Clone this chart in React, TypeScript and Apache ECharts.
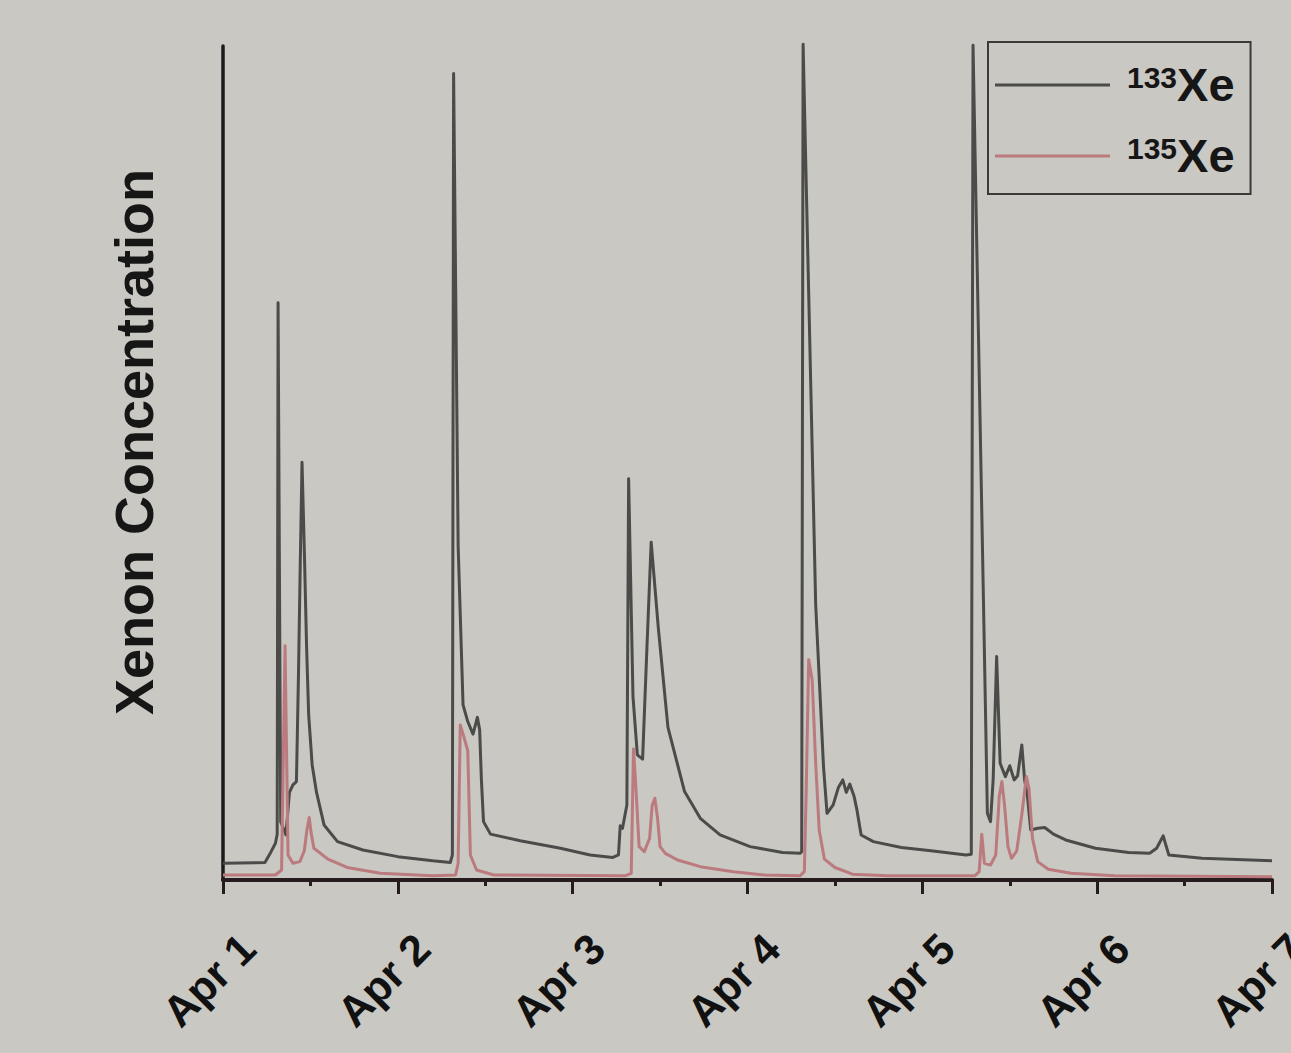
import React, { useEffect, useRef } from "react";
import * as echarts from "echarts";

// x positions are days after Apr 1 00:00
const tickLabels = ["Apr 1", "Apr 2", "Apr 3", "Apr 4", "Apr 5", "Apr 6", "Apr 7"];
const seriesNames = ["133Xe", "135Xe"];

const xe133Days = [
  0, 0.24, 0.275, 0.3, 0.31, 0.315, 0.33, 0.36, 0.38, 0.4, 0.42, 0.432, 0.442, 0.452, 0.466, 0.478, 0.49, 0.51, 0.535, 0.578, 0.655, 0.8, 1.0, 1.2,
  1.3, 1.312, 1.319, 1.345, 1.373, 1.4, 1.43, 1.455, 1.468, 1.478, 1.49, 1.53, 1.7, 1.93, 2.1, 2.23,
  2.262, 2.272, 2.285, 2.31, 2.32, 2.345, 2.37, 2.4, 2.425, 2.449, 2.49, 2.545, 2.64, 2.73, 2.843, 3.015, 3.2, 3.3,
  3.31, 3.318, 3.39, 3.435, 3.455, 3.49, 3.52, 3.545, 3.565, 3.585, 3.61, 3.625, 3.65, 3.72, 3.88, 4.05,
  4.25, 4.28, 4.29, 4.35, 4.372, 4.39, 4.405, 4.425, 4.445, 4.475, 4.5, 4.525, 4.545, 4.569, 4.585, 4.6, 4.62, 4.66, 4.7, 4.75, 4.82, 4.99, 5.18, 5.3, 5.34, 5.378, 5.39, 5.41, 5.6, 6.0,
];
const xe133Values = [
  2.0, 2.1, 3.4, 4.4, 5.5, 69.2, 7, 5.4, 10.5, 11.4, 11.8, 25, 38, 50.1, 38.8, 28, 19.8, 13.8, 10.5, 6.6, 4.6, 3.6, 2.8, 2.3,
  2.1, 3.0, 96.7, 40, 21, 19, 17.5, 19.5, 18, 12, 7, 5.5, 4.7, 3.8, 3.0, 2.7,
  3.0, 6.5, 6.2, 9, 48.1, 22, 15, 14.5, 28, 40.5, 30.2, 18.3, 10.6, 7.4, 5.4, 4.0, 3.3, 3.2,
  3.4, 100.2, 33, 13.5, 8, 9, 11.1, 12.0, 10.5, 11.5, 10.0, 8.5, 5.4, 4.6, 3.9, 3.5,
  3.0, 3.1, 100.1, 33, 8, 7, 12, 26.8, 14, 12.4, 13.7, 12, 12.5, 16.2, 12, 10.3, 6, 6.2, 6.3, 5.5, 4.8, 3.8, 3.3, 3.2, 3.8, 5.3, 4.4, 3.0, 2.6, 2.3,
];

const xe135Days = [
  0, 0.3, 0.335, 0.355, 0.372, 0.4, 0.44, 0.465, 0.48, 0.493, 0.505, 0.52, 0.6, 0.71, 0.9, 1.2,
  1.33, 1.345, 1.357, 1.38, 1.4, 1.415, 1.45, 1.55,
  2.3, 2.335, 2.348, 2.362, 2.38, 2.41, 2.44, 2.455, 2.47, 2.485, 2.5, 2.53, 2.6, 2.73, 2.92, 3.1,
  3.3, 3.325, 3.335, 3.35, 3.37, 3.39, 3.41, 3.44, 3.5, 3.6, 3.8,
  4.3, 4.325, 4.34, 4.355, 4.39, 4.42, 4.44, 4.455, 4.47, 4.49, 4.51, 4.54, 4.57, 4.595, 4.61, 4.63, 4.66, 4.72, 4.85, 5.1, 6.0,
];
const xe135Values = [
  0.6, 0.6, 1.2, 28.1, 3, 2.0, 2.2, 3.5, 6, 7.5, 5.5, 3.8, 2.5, 1.5, 0.8, 0.5,
  0.6, 2, 18.6, 17, 15.5, 3, 1.2, 0.6,
  0.5, 0.8, 15.7, 11, 4, 3.4, 5, 9, 9.8, 7.5, 4.0, 3.2, 2.4, 1.6, 1.0, 0.6,
  0.5, 1, 10, 26.4, 24, 14, 6, 2.5, 1.5, 0.7, 0.5,
  0.5, 1, 5.5, 2, 1.8, 3, 10, 11.8, 9, 4, 2.6, 3.5, 8, 12.4, 11, 5, 2.2, 1.3, 0.8, 0.5, 0.4,
];

const zip = (xs: number[], ys: number[]) => xs.map((x, i) => [x, ys[i]]);

export default function App() {
  const ref = useRef<HTMLDivElement>(null);
  useEffect(() => {
    const chart = echarts.init(ref.current as HTMLDivElement, null, { renderer: "svg" });
    const font = "'Liberation Sans', Arial, sans-serif";
    chart.setOption({
      animation: false,
      backgroundColor: "#c9c8c3",
      textStyle: { fontFamily: font },
      grid: { left: 223, right: 19, top: 46, bottom: 173, containLabel: false, outerBoundsMode: "none" },
      legend: {
        orient: "vertical",
        left: 988,
        top: 42,
        padding: [19, 16, 15, 7],
        itemWidth: 115,
        itemHeight: 3,
        itemGap: 24,
        icon: "rect",
        borderColor: "#3a3a38",
        borderWidth: 2,
        data: seriesNames,
        formatter: (name: string) => `{sup|${name.slice(0, 3)}}{xe|${name.slice(3)}}`,
        textStyle: {
          color: "#161616",
          fontFamily: font,
          rich: {
            sup: { fontSize: 30, lineHeight: 18, verticalAlign: "top", fontWeight: "bold", padding: [0, 0, 0, 12], fontFamily: font, color: "#161616" },
            xe: { fontSize: 47, lineHeight: 46, verticalAlign: "bottom", fontWeight: "bold", fontFamily: font, color: "#161616" },
          },
        },
      },
      xAxis: {
        type: "value",
        min: 0,
        max: 6,
        interval: 1,
        splitLine: { show: false },
        axisLine: { show: true, lineStyle: { color: "#261c1d", width: 4 } },
        axisTick: { show: true, length: 14, lineStyle: { color: "#261c1d", width: 3 } },
        minorTick: { show: true, splitNumber: 2, length: 6, lineStyle: { color: "#261c1d", width: 3 } },
        axisLabel: {
          rotate: 45,
          align: "center",
          verticalAlign: "middle",
          margin: 86,
          padding: [0, 40, 0, 0],
          fontSize: 43,
          fontWeight: "bold",
          color: "#111111",
          fontFamily: font,
          showMinLabel: true,
          showMaxLabel: true,
          hideOverlap: false,
          formatter: (v: number) => tickLabels[Math.round(v)] ?? "",
        },
      },
      yAxis: {
        type: "value",
        min: 0,
        max: 100,
        name: "Xenon Concentration",
        nameLocation: "middle",
        nameRotate: 90,
        nameGap: 62,
        nameTextStyle: { fontSize: 54, fontWeight: "bold", color: "#161616", fontFamily: font, padding: [0, 0, 0, 42] },
        splitLine: { show: false },
        axisTick: { show: false },
        axisLabel: { show: false },
        axisLine: { show: true, lineStyle: { color: "#1b1b1b", width: 3.5 } },
      },
      series: [
        {
          name: seriesNames[0],
          type: "line",
          data: zip(xe133Days, xe133Values),
          symbol: "none",
          clip: false,
          color: "#4b4c49",
          lineStyle: { color: "#4b4c49", width: 3, join: "round" },
          z: 2,
        },
        {
          name: seriesNames[1],
          type: "line",
          data: zip(xe135Days, xe135Values),
          symbol: "none",
          clip: false,
          color: "#bb7a7d",
          lineStyle: { color: "#bb7a7d", width: 3, join: "round" },
          z: 3,
        },
      ],
    });
    return () => chart.dispose();
  }, []);
  return (
    <div
      ref={ref}
      style={{ position: "fixed", left: 0, top: 0, width: 1291, height: 1053, background: "#c9c8c3" }}
    />
  );
}
